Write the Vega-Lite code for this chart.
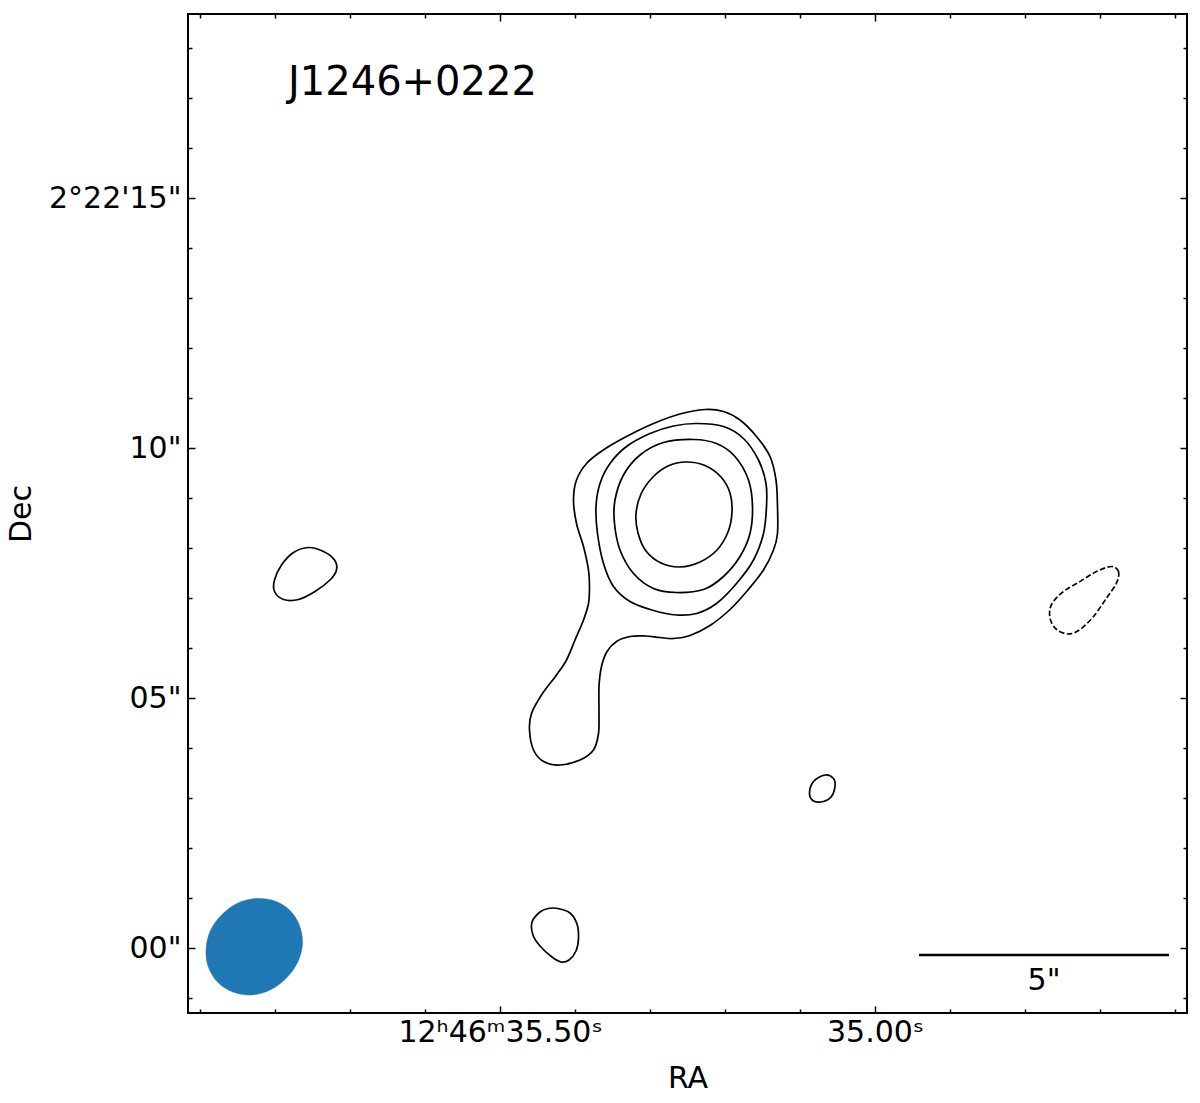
{
  "$schema": "https://vega.github.io/schema/vega-lite/v6.json",
  "width": 999,
  "height": 999,
  "autosize": {"type": "none"},
  "padding": {"left": 188, "top": 14, "right": 13, "bottom": 90},
  "background": "white",
  "config": {
    "view": {"stroke": "black", "strokeWidth": 2},
    "font": "DejaVu Sans",
    "axis": {"grid": false, "domain": false, "labelFont": "DejaVu Sans", "titleFont": "DejaVu Sans", "labelColor": "black", "titleColor": "black", "tickColor": "black", "tickWidth": 1.5, "labelFontSize": 30, "titleFontSize": 30, "titleFontWeight": "normal", "labelLimit": 0, "labelOverlap": false}
  },
  "datasets": {
    "contours": [
      {"id":"c1","i":0,"x":4.10,"y":10.77},{"id":"c1","i":1,"x":4.47,"y":10.73},{"id":"c1","i":2,"x":4.80,"y":10.56},{"id":"c1","i":3,"x":5.13,"y":10.23},{"id":"c1","i":4,"x":5.40,"y":9.83},{"id":"c1","i":5,"x":5.52,"y":9.36},{"id":"c1","i":6,"x":5.55,"y":8.83},{"id":"c1","i":7,"x":5.55,"y":8.29},{"id":"c1","i":8,"x":5.47,"y":7.96},{"id":"c1","i":9,"x":5.27,"y":7.56},{"id":"c1","i":10,"x":4.95,"y":7.15},{"id":"c1","i":11,"x":4.60,"y":6.77},{"id":"c1","i":12,"x":4.20,"y":6.45},{"id":"c1","i":13,"x":3.80,"y":6.25},{"id":"c1","i":14,"x":3.47,"y":6.19},{"id":"c1","i":15,"x":3.20,"y":6.21},{"id":"c1","i":16,"x":2.90,"y":6.24},{"id":"c1","i":17,"x":2.60,"y":6.23},{"id":"c1","i":18,"x":2.33,"y":6.13},{"id":"c1","i":19,"x":2.14,"y":5.93},{"id":"c1","i":20,"x":2.03,"y":5.63},{"id":"c1","i":21,"x":1.98,"y":5.23},{"id":"c1","i":22,"x":1.98,"y":4.69},{"id":"c1","i":23,"x":1.97,"y":4.29},{"id":"c1","i":24,"x":1.87,"y":3.96},{"id":"c1","i":25,"x":1.60,"y":3.76},{"id":"c1","i":26,"x":1.20,"y":3.66},{"id":"c1","i":27,"x":0.87,"y":3.73},{"id":"c1","i":28,"x":0.67,"y":3.96},{"id":"c1","i":29,"x":0.59,"y":4.36},{"id":"c1","i":30,"x":0.63,"y":4.69},{"id":"c1","i":31,"x":0.83,"y":5.06},{"id":"c1","i":32,"x":1.13,"y":5.46},{"id":"c1","i":33,"x":1.33,"y":5.76},{"id":"c1","i":34,"x":1.50,"y":6.16},{"id":"c1","i":35,"x":1.67,"y":6.56},{"id":"c1","i":36,"x":1.77,"y":6.89},{"id":"c1","i":37,"x":1.79,"y":7.23},{"id":"c1","i":38,"x":1.77,"y":7.56},{"id":"c1","i":39,"x":1.67,"y":8.03},{"id":"c1","i":40,"x":1.53,"y":8.49},{"id":"c1","i":41,"x":1.47,"y":8.96},{"id":"c1","i":42,"x":1.53,"y":9.36},{"id":"c1","i":43,"x":1.74,"y":9.70},{"id":"c1","i":44,"x":2.08,"y":9.97},{"id":"c1","i":45,"x":2.53,"y":10.23},{"id":"c1","i":46,"x":3.07,"y":10.49},{"id":"c1","i":47,"x":3.60,"y":10.68},
      {"id":"c2","i":0,"x":3.93,"y":10.49},{"id":"c2","i":1,"x":4.47,"y":10.43},{"id":"c2","i":2,"x":4.87,"y":10.19},{"id":"c2","i":3,"x":5.17,"y":9.76},{"id":"c2","i":4,"x":5.32,"y":9.29},{"id":"c2","i":5,"x":5.33,"y":8.83},{"id":"c2","i":6,"x":5.27,"y":8.29},{"id":"c2","i":7,"x":5.07,"y":7.76},{"id":"c2","i":8,"x":4.73,"y":7.29},{"id":"c2","i":9,"x":4.33,"y":6.89},{"id":"c2","i":10,"x":3.93,"y":6.69},{"id":"c2","i":11,"x":3.53,"y":6.66},{"id":"c2","i":12,"x":3.07,"y":6.75},{"id":"c2","i":13,"x":2.60,"y":6.93},{"id":"c2","i":14,"x":2.27,"y":7.23},{"id":"c2","i":15,"x":2.07,"y":7.69},{"id":"c2","i":16,"x":1.95,"y":8.29},{"id":"c2","i":17,"x":1.92,"y":8.83},{"id":"c2","i":18,"x":2.00,"y":9.29},{"id":"c2","i":19,"x":2.20,"y":9.69},{"id":"c2","i":20,"x":2.53,"y":10.03},{"id":"c2","i":21,"x":3.00,"y":10.29},{"id":"c2","i":22,"x":3.47,"y":10.44},
      {"id":"c3","i":0,"x":3.87,"y":10.17},{"id":"c3","i":1,"x":4.33,"y":10.09},{"id":"c3","i":2,"x":4.70,"y":9.83},{"id":"c3","i":3,"x":4.97,"y":9.36},{"id":"c3","i":4,"x":5.05,"y":8.83},{"id":"c3","i":5,"x":5.00,"y":8.29},{"id":"c3","i":6,"x":4.80,"y":7.83},{"id":"c3","i":7,"x":4.47,"y":7.43},{"id":"c3","i":8,"x":4.07,"y":7.17},{"id":"c3","i":9,"x":3.53,"y":7.11},{"id":"c3","i":10,"x":3.07,"y":7.19},{"id":"c3","i":11,"x":2.67,"y":7.49},{"id":"c3","i":12,"x":2.40,"y":7.96},{"id":"c3","i":13,"x":2.29,"y":8.49},{"id":"c3","i":14,"x":2.30,"y":8.96},{"id":"c3","i":15,"x":2.47,"y":9.46},{"id":"c3","i":16,"x":2.80,"y":9.86},{"id":"c3","i":17,"x":3.27,"y":10.11},
      {"id":"c4","i":0,"x":3.72,"y":9.72},{"id":"c4","i":1,"x":4.10,"y":9.65},{"id":"c4","i":2,"x":4.42,"y":9.42},{"id":"c4","i":3,"x":4.60,"y":9.10},{"id":"c4","i":4,"x":4.64,"y":8.72},{"id":"c4","i":5,"x":4.56,"y":8.32},{"id":"c4","i":6,"x":4.34,"y":7.96},{"id":"c4","i":7,"x":4.00,"y":7.72},{"id":"c4","i":8,"x":3.60,"y":7.62},{"id":"c4","i":9,"x":3.22,"y":7.70},{"id":"c4","i":10,"x":2.92,"y":7.94},{"id":"c4","i":11,"x":2.76,"y":8.30},{"id":"c4","i":12,"x":2.72,"y":8.68},{"id":"c4","i":13,"x":2.82,"y":9.08},{"id":"c4","i":14,"x":3.06,"y":9.42},{"id":"c4","i":15,"x":3.36,"y":9.64},
      {"id":"b1","i":0,"x":-3.83,"y":8.01},{"id":"b1","i":1,"x":-3.53,"y":7.93},{"id":"b1","i":2,"x":-3.31,"y":7.76},{"id":"b1","i":3,"x":-3.27,"y":7.56},{"id":"b1","i":4,"x":-3.40,"y":7.36},{"id":"b1","i":5,"x":-3.70,"y":7.13},{"id":"b1","i":6,"x":-4.03,"y":6.97},{"id":"b1","i":7,"x":-4.33,"y":6.97},{"id":"b1","i":8,"x":-4.51,"y":7.13},{"id":"b1","i":9,"x":-4.51,"y":7.36},{"id":"b1","i":10,"x":-4.37,"y":7.66},{"id":"b1","i":11,"x":-4.13,"y":7.91},
      {"id":"b2","i":0,"x":6.50,"y":3.46},{"id":"b2","i":1,"x":6.67,"y":3.39},{"id":"b2","i":2,"x":6.70,"y":3.23},{"id":"b2","i":3,"x":6.63,"y":3.03},{"id":"b2","i":4,"x":6.47,"y":2.93},{"id":"b2","i":5,"x":6.27,"y":2.94},{"id":"b2","i":6,"x":6.19,"y":3.09},{"id":"b2","i":7,"x":6.27,"y":3.33},
      {"id":"b3","i":0,"x":1.16,"y":0.79},{"id":"b3","i":1,"x":1.40,"y":0.70},{"id":"b3","i":2,"x":1.54,"y":0.48},{"id":"b3","i":3,"x":1.57,"y":0.20},{"id":"b3","i":4,"x":1.52,"y":-0.06},{"id":"b3","i":5,"x":1.38,"y":-0.24},{"id":"b3","i":6,"x":1.22,"y":-0.28},{"id":"b3","i":7,"x":1.04,"y":-0.18},{"id":"b3","i":8,"x":0.80,"y":0.04},{"id":"b3","i":9,"x":0.66,"y":0.26},{"id":"b3","i":10,"x":0.64,"y":0.52},{"id":"b3","i":11,"x":0.80,"y":0.72},{"id":"b3","i":12,"x":0.96,"y":0.79}
    ],
    "negative": [
      {"id":"n1","i":0,"x":12.23,"y":7.63},{"id":"n1","i":1,"x":12.37,"y":7.53},{"id":"n1","i":2,"x":12.33,"y":7.30},{"id":"n1","i":3,"x":12.13,"y":7.00},{"id":"n1","i":4,"x":11.87,"y":6.63},{"id":"n1","i":5,"x":11.60,"y":6.37},{"id":"n1","i":6,"x":11.37,"y":6.28},{"id":"n1","i":7,"x":11.13,"y":6.37},{"id":"n1","i":8,"x":11.00,"y":6.60},{"id":"n1","i":9,"x":11.03,"y":6.87},{"id":"n1","i":10,"x":11.27,"y":7.13},{"id":"n1","i":11,"x":11.60,"y":7.33},{"id":"n1","i":12,"x":11.93,"y":7.53}
    ],
    "beam": [
      {"i":0,"x":-4.20,"y":0.75},{"i":1,"x":-4.01,"y":0.45},{"i":2,"x":-3.95,"y":0.08},{"i":3,"x":-4.05,"y":-0.29},{"i":4,"x":-4.28,"y":-0.61},{"i":5,"x":-4.60,"y":-0.84},{"i":6,"x":-4.97,"y":-0.94},{"i":7,"x":-5.34,"y":-0.88},{"i":8,"x":-5.64,"y":-0.69},{"i":9,"x":-5.83,"y":-0.39},{"i":10,"x":-5.88,"y":-0.03},{"i":11,"x":-5.79,"y":0.35},{"i":12,"x":-5.56,"y":0.67},{"i":13,"x":-5.24,"y":0.90},{"i":14,"x":-4.86,"y":0.99},{"i":15,"x":-4.50,"y":0.94}
    ],
    "scalebar": [{"x": 8.38, "x2": 13.38, "y": -0.14, "label": "5\"", "lx": 10.88, "ly": -0.84}],
    "name": [{"x": -4.24, "y": 17.06, "label": "J1246+0222"}]
  },
  "layer": [
    {
      "data": {"name": "contours"},
      "mark": {"type": "line", "interpolate": "cardinal-closed", "color": "black", "strokeWidth": 1.7},
      "encoding": {
        "x": {"field": "x", "type": "quantitative", "scale": {"domain": [-6.24, 13.74], "nice": false, "zero": false},
              "axis": {"orient": "bottom", "values": [0, 7.5], "labelExpr": "datum.value == 0 ? '12ʰ46ᵐ35.50ˢ' : '35.00ˢ'", "tickSize": -7, "labelPadding": 11, "title": "RA", "titlePadding": 16}},
        "y": {"field": "y", "type": "quantitative", "scale": {"domain": [-1.3, 18.68], "nice": false, "zero": false},
              "axis": {"orient": "left", "values": [0, 5, 10, 15], "labelExpr": "datum.value == 15 ? '2°22\\'15\"' : datum.value == 10 ? '10\"' : datum.value == 5 ? '05\"' : '00\"'", "tickSize": -7, "labelPadding": 14, "title": "Dec", "titlePadding": 12}},
        "detail": {"field": "id"},
        "order": {"field": "i"}
      }
    },
    {
      "data": {"name": "negative"},
      "mark": {"type": "line", "interpolate": "cardinal-closed", "color": "black", "strokeWidth": 1.7, "strokeDash": [5.5, 2.5]},
      "encoding": {
        "x": {"field": "x", "type": "quantitative", "scale": {"domain": [-6.24, 13.74], "nice": false, "zero": false},
              "axis": {"orient": "bottom", "values": [-6, -4.5, -3, -1.5, 1.5, 3, 4.5, 6, 9, 10.5, 12, 13.5], "labels": false, "tickSize": -4, "title": null}},
        "y": {"field": "y", "type": "quantitative", "scale": {"domain": [-1.3, 18.68], "nice": false, "zero": false},
              "axis": {"orient": "left", "values": [-1, 1, 2, 3, 4, 6, 7, 8, 9, 11, 12, 13, 14, 16, 17, 18], "labels": false, "tickSize": -4, "title": null}},
        "detail": {"field": "id"},
        "order": {"field": "i"}
      }
    },
    {
      "data": {"name": "beam"},
      "mark": {"type": "line", "interpolate": "cardinal-closed", "fill": "#1f77b4", "stroke": "#1f77b4", "strokeWidth": 0.5},
      "encoding": {
        "x": {"field": "x", "type": "quantitative", "scale": {"domain": [-6.24, 13.74], "nice": false, "zero": false},
              "axis": {"orient": "top", "values": [0, 7.5], "labels": false, "tickSize": -7, "title": null}},
        "y": {"field": "y", "type": "quantitative", "scale": {"domain": [-1.3, 18.68], "nice": false, "zero": false},
              "axis": {"orient": "right", "values": [0, 5, 10, 15], "labels": false, "tickSize": -7, "title": null}},
        "order": {"field": "i"}
      }
    },
    {
      "data": {"name": "scalebar"},
      "mark": {"type": "rule", "color": "black", "strokeWidth": 2.6},
      "encoding": {
        "x": {"field": "x", "type": "quantitative", "scale": {"domain": [-6.24, 13.74], "nice": false, "zero": false},
              "axis": {"orient": "top", "values": [-6, -4.5, -3, -1.5, 1.5, 3, 4.5, 6, 9, 10.5, 12, 13.5], "labels": false, "tickSize": -4, "title": null}},
        "x2": {"field": "x2"},
        "y": {"field": "y", "type": "quantitative", "scale": {"domain": [-1.3, 18.68], "nice": false, "zero": false},
              "axis": {"orient": "right", "values": [-1, 1, 2, 3, 4, 6, 7, 8, 9, 11, 12, 13, 14, 16, 17, 18], "labels": false, "tickSize": -4, "title": null}}
      }
    },
    {
      "data": {"name": "scalebar"},
      "mark": {"type": "text", "fontSize": 30, "align": "center", "baseline": "alphabetic", "color": "black", "font": "DejaVu Sans"},
      "encoding": {
        "x": {"field": "lx", "type": "quantitative", "scale": {"domain": [-6.24, 13.74], "nice": false, "zero": false}, "axis": null},
        "y": {"field": "ly", "type": "quantitative", "scale": {"domain": [-1.3, 18.68], "nice": false, "zero": false}, "axis": null},
        "text": {"field": "label"}
      }
    },
    {
      "data": {"name": "name"},
      "mark": {"type": "text", "fontSize": 40, "align": "left", "baseline": "alphabetic", "color": "black", "font": "DejaVu Sans"},
      "encoding": {
        "x": {"field": "x", "type": "quantitative", "scale": {"domain": [-6.24, 13.74], "nice": false, "zero": false}, "axis": null},
        "y": {"field": "y", "type": "quantitative", "scale": {"domain": [-1.3, 18.68], "nice": false, "zero": false}, "axis": null},
        "text": {"field": "label"}
      }
    }
  ],
  "resolve": {"axis": {"x": "independent", "y": "independent"}}
}
